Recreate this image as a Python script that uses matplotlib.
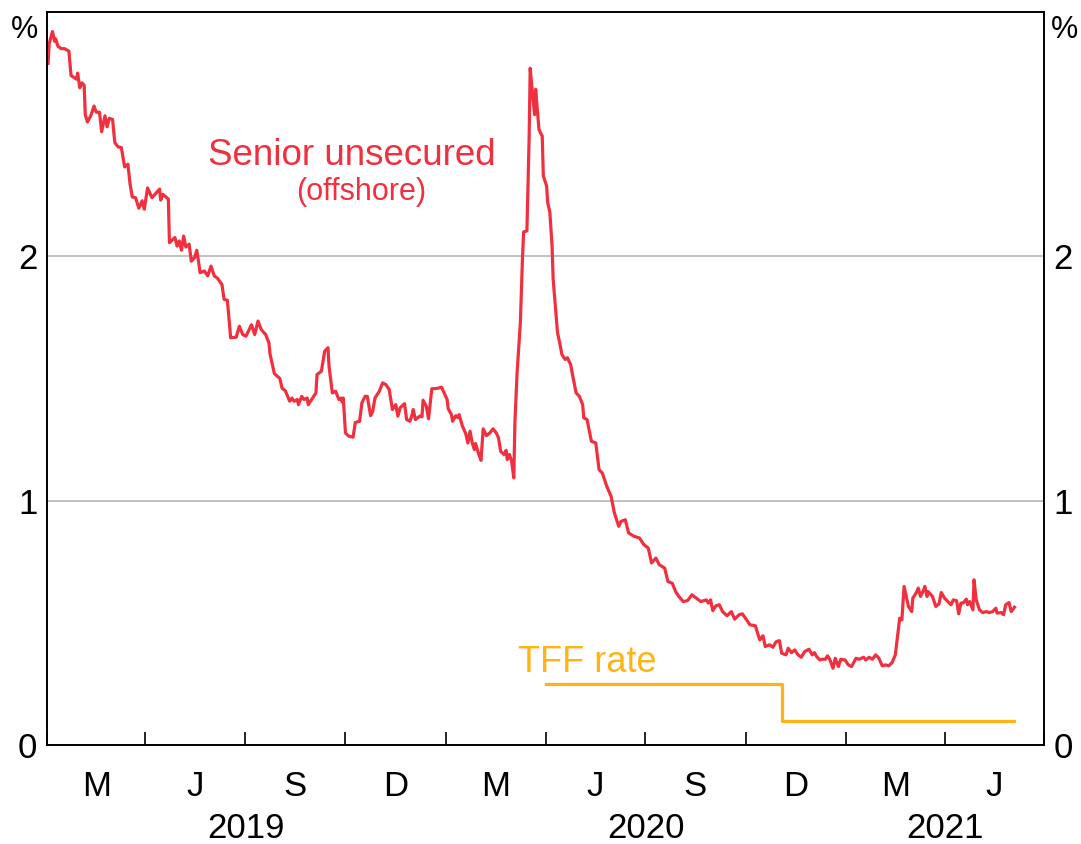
import matplotlib
matplotlib.use("Agg")
import matplotlib.pyplot as plt
import matplotlib.transforms as mtransforms
import pandas as pd

plt.rcParams["font.family"] = ["Liberation Sans", "DejaVu Sans"]

# senior unsecured spread (offshore), per cent
senior_dates = [
    "2019-01-02", "2019-01-03", "2019-01-06", "2019-01-08", "2019-01-09", "2019-01-11",
    "2019-01-14", "2019-01-17", "2019-01-21", "2019-01-23", "2019-01-28", "2019-01-29",
    "2019-01-31", "2019-02-02", "2019-02-04", "2019-02-05", "2019-02-07", "2019-02-10",
    "2019-02-13", "2019-02-15", "2019-02-18", "2019-02-20", "2019-02-23", "2019-02-25",
    "2019-02-27", "2019-03-02", "2019-03-04", "2019-03-07", "2019-03-10", "2019-03-13",
    "2019-03-16", "2019-03-18", "2019-03-20", "2019-03-23", "2019-03-26", "2019-03-29",
    "2019-03-31", "2019-04-03", "2019-04-07", "2019-04-11", "2019-04-14", "2019-04-15",
    "2019-04-17", "2019-04-22", "2019-04-23", "2019-04-28", "2019-04-30", "2019-05-02",
    "2019-05-04", "2019-05-06", "2019-05-08", "2019-05-11", "2019-05-13", "2019-05-16",
    "2019-05-18", "2019-05-20", "2019-05-21", "2019-05-25", "2019-05-28", "2019-05-31",
    "2019-06-03", "2019-06-06", "2019-06-10", "2019-06-12", "2019-06-15", "2019-06-18",
    "2019-06-23", "2019-06-26", "2019-06-29", "2019-07-02", "2019-07-07", "2019-07-10",
    "2019-07-13", "2019-07-16", "2019-07-20", "2019-07-23", "2019-07-24", "2019-07-28",
    "2019-08-02", "2019-08-04", "2019-08-07", "2019-08-11", "2019-08-13", "2019-08-15",
    "2019-08-18", "2019-08-19", "2019-08-22", "2019-08-24", "2019-08-27", "2019-08-28",
    "2019-09-01", "2019-09-04", "2019-09-05", "2019-09-09", "2019-09-12", "2019-09-15",
    "2019-09-16", "2019-09-19", "2019-09-22", "2019-09-25", "2019-09-27", "2019-09-28",
    "2019-09-29", "2019-10-01", "2019-10-04", "2019-10-08", "2019-10-10", "2019-10-14",
    "2019-10-16", "2019-10-19", "2019-10-21", "2019-10-24", "2019-10-26", "2019-10-28",
    "2019-10-31", "2019-11-01", "2019-11-04", "2019-11-07", "2019-11-10", "2019-11-13",
    "2019-11-16", "2019-11-18", "2019-11-20", "2019-11-24", "2019-11-26", "2019-11-29",
    "2019-12-01", "2019-12-02", "2019-12-04", "2019-12-08", "2019-12-10", "2019-12-11",
    "2019-12-14", "2019-12-16", "2019-12-19", "2019-12-23", "2019-12-28", "2020-01-02",
    "2020-01-03", "2020-01-06", "2020-01-07", "2020-01-10", "2020-01-12", "2020-01-13",
    "2020-01-16", "2020-01-19", "2020-01-21", "2020-01-23", "2020-01-25", "2020-01-27",
    "2020-01-28", "2020-01-31", "2020-02-02", "2020-02-04", "2020-02-07", "2020-02-10",
    "2020-02-13", "2020-02-16", "2020-02-18", "2020-02-20", "2020-02-23", "2020-02-25",
    "2020-02-26", "2020-02-28", "2020-03-01", "2020-03-03", "2020-03-04", "2020-03-06",
    "2020-03-09", "2020-03-11", "2020-03-12", "2020-03-15", "2020-03-17", "2020-03-18",
    "2020-03-20", "2020-03-22", "2020-03-23", "2020-03-25", "2020-03-26", "2020-03-28",
    "2020-03-29", "2020-03-30", "2020-04-02", "2020-04-03", "2020-04-05", "2020-04-07",
    "2020-04-08", "2020-04-10", "2020-04-12", "2020-04-14", "2020-04-16", "2020-04-19",
    "2020-04-21", "2020-04-24", "2020-04-26", "2020-04-29", "2020-05-02", "2020-05-05",
    "2020-05-06", "2020-05-09", "2020-05-13", "2020-05-17", "2020-05-20", "2020-05-23",
    "2020-05-27", "2020-05-31", "2020-06-03", "2020-06-07", "2020-06-09", "2020-06-13",
    "2020-06-16", "2020-06-21", "2020-06-26", "2020-06-30", "2020-07-04", "2020-07-07",
    "2020-07-11", "2020-07-14", "2020-07-19", "2020-07-22", "2020-07-26", "2020-07-29",
    "2020-08-01", "2020-08-05", "2020-08-09", "2020-08-13", "2020-08-17", "2020-08-21",
    "2020-08-26", "2020-08-28", "2020-08-30", "2020-09-01", "2020-09-04", "2020-09-07",
    "2020-09-10", "2020-09-14", "2020-09-18", "2020-09-21", "2020-09-25", "2020-09-28",
    "2020-10-02", "2020-10-05", "2020-10-10", "2020-10-12", "2020-10-14", "2020-10-17",
    "2020-10-19", "2020-10-23", "2020-10-26", "2020-10-29", "2020-11-01", "2020-11-03",
    "2020-11-07", "2020-11-09", "2020-11-12", "2020-11-15", "2020-11-18", "2020-11-21",
    "2020-11-24", "2020-11-28", "2020-12-01", "2020-12-03", "2020-12-05", "2020-12-08",
    "2020-12-10", "2020-12-13", "2020-12-15", "2020-12-17", "2020-12-20", "2020-12-22",
    "2020-12-25", "2020-12-27", "2020-12-31", "2021-01-03", "2021-01-06", "2021-01-10",
    "2021-01-13", "2021-01-17", "2021-01-19", "2021-01-22", "2021-01-25", "2021-01-28",
    "2021-01-31", "2021-02-03", "2021-02-06", "2021-02-09", "2021-02-12", "2021-02-15",
    "2021-02-17", "2021-02-19", "2021-02-21", "2021-02-23", "2021-02-25", "2021-02-27",
    "2021-03-02", "2021-03-03", "2021-03-06", "2021-03-08", "2021-03-10", "2021-03-13",
    "2021-03-14", "2021-03-16", "2021-03-17", "2021-03-21", "2021-03-24", "2021-03-27",
    "2021-03-29", "2021-04-01", "2021-04-04", "2021-04-07", "2021-04-09", "2021-04-12",
    "2021-04-14", "2021-04-16", "2021-04-18", "2021-04-21", "2021-04-22", "2021-04-24",
    "2021-04-27", "2021-04-28", "2021-04-30", "2021-05-03", "2021-05-06", "2021-05-09",
    "2021-05-12", "2021-05-15", "2021-05-18", "2021-05-19", "2021-05-23", "2021-05-25",
    "2021-05-27", "2021-05-30", "2021-06-01", "2021-06-04",
]
senior_unsecured = [
    2.79, 2.87, 2.92, 2.88, 2.89, 2.86,
    2.85, 2.85, 2.84, 2.74, 2.725, 2.75,
    2.69, 2.71, 2.70, 2.58, 2.55, 2.575,
    2.615, 2.59, 2.59, 2.51, 2.575, 2.53,
    2.565, 2.56, 2.466, 2.448, 2.445, 2.366,
    2.377, 2.295, 2.243, 2.24, 2.197, 2.227,
    2.193, 2.28, 2.24, 2.26, 2.275, 2.23,
    2.254, 2.234, 2.056, 2.077, 2.042, 2.063,
    2.025, 2.083, 2.038, 2.05, 1.98, 1.995,
    2.025, 1.967, 1.933, 1.94, 1.92, 1.96,
    1.92, 1.91, 1.885, 1.824, 1.82, 1.667,
    1.669, 1.714, 1.68, 1.673, 1.72, 1.68,
    1.735, 1.70, 1.68, 1.646, 1.60, 1.52,
    1.50, 1.46, 1.45, 1.407, 1.42, 1.407,
    1.414, 1.393, 1.427, 1.414, 1.42, 1.393,
    1.42, 1.441, 1.516, 1.53, 1.612, 1.626,
    1.55, 1.441, 1.448, 1.414, 1.42, 1.403,
    1.42, 1.277, 1.264, 1.26, 1.32, 1.325,
    1.40, 1.427, 1.427, 1.348, 1.366, 1.42,
    1.441, 1.448, 1.482, 1.475, 1.455, 1.373,
    1.393, 1.346, 1.38, 1.397, 1.332, 1.325,
    1.352, 1.373, 1.332, 1.346, 1.343, 1.411,
    1.386, 1.335, 1.458, 1.459, 1.464, 1.414,
    1.376, 1.352, 1.325, 1.348, 1.339, 1.352,
    1.305, 1.275, 1.236, 1.284, 1.236, 1.209,
    1.234, 1.189, 1.165, 1.294, 1.266, 1.277,
    1.294, 1.277, 1.257, 1.202, 1.189, 1.206,
    1.168, 1.189, 1.161, 1.093, 1.318, 1.523,
    1.728, 2.00, 2.10, 2.104, 2.48, 2.77,
    2.67, 2.58, 2.684, 2.575, 2.52, 2.50,
    2.493, 2.33, 2.288, 2.22, 2.18, 2.042,
    1.906, 1.796, 1.687, 1.646, 1.598, 1.578,
    1.585, 1.557, 1.509, 1.441, 1.427, 1.393,
    1.339, 1.332, 1.243, 1.236, 1.127, 1.113,
    1.059, 1.018, 0.95, 0.895, 0.915, 0.922,
    0.868, 0.854, 0.847, 0.82, 0.806, 0.745,
    0.765, 0.738, 0.724, 0.669, 0.662, 0.628,
    0.608, 0.587, 0.591, 0.615, 0.601, 0.587,
    0.594, 0.581, 0.594, 0.55, 0.57, 0.574,
    0.546, 0.529, 0.546, 0.515, 0.533, 0.537,
    0.512, 0.492, 0.488, 0.458, 0.43, 0.447,
    0.403, 0.41, 0.40, 0.423, 0.427, 0.376,
    0.369, 0.396, 0.378, 0.389, 0.369, 0.359,
    0.382, 0.392, 0.369, 0.378, 0.362, 0.348,
    0.351, 0.351, 0.365, 0.351, 0.314, 0.355,
    0.321, 0.351, 0.348, 0.328, 0.321, 0.355,
    0.351, 0.359, 0.348, 0.359, 0.351, 0.369,
    0.355, 0.324, 0.328, 0.324, 0.337, 0.369,
    0.444, 0.519, 0.512, 0.649, 0.608, 0.567,
    0.546, 0.601, 0.622, 0.642, 0.608, 0.635,
    0.649, 0.608, 0.628, 0.608, 0.567, 0.578,
    0.624, 0.601, 0.587, 0.574, 0.594, 0.591,
    0.537, 0.581, 0.581, 0.597, 0.574, 0.587,
    0.553, 0.676, 0.594, 0.553, 0.542, 0.546,
    0.542, 0.546, 0.56, 0.54, 0.542, 0.533,
    0.574, 0.583, 0.546, 0.564,
]

# term funding facility rate, per cent
tff_dates = ["2020-04-01", "2020-11-03", "2021-06-04"]
tff_rate = [0.25, 0.10, 0.10]

quarter_labels = ["M", "J", "S", "D", "M", "J", "S", "D", "M", "J"]
year_labels = ["2019", "2020", "2021"]
year_centres = ["2019-07-02", "2020-07-02", "2021-04-01"]

RED = "#F0303E"
GOLD = "#FDB515"
FS = 25

senior = pd.Series(senior_unsecured, index=pd.to_datetime(senior_dates))
tff = pd.Series(tff_rate, index=pd.to_datetime(tff_dates))

fig = plt.figure(figsize=(10.81, 8.44), dpi=100)
ax = fig.add_axes([47 / 1081, 99 / 844, 997 / 1081, 733 / 844])

ax.plot(senior.index, senior.values, color=RED, lw=2.3)
ax.plot(tff.index, tff.values, color=GOLD, lw=2.3, drawstyle="steps-post")

ax.set_xlim(pd.Timestamp("2019-01-01"), pd.Timestamp("2021-07-01"))
ax.set_ylim(0, 3)

# quarter ticks point inwards, labels sit mid-quarter
q_starts = pd.date_range("2019-01-01", "2021-07-01", freq="QS")
ax.set_xticks(q_starts)
ax.set_xticklabels([""] * len(q_starts))
mids = [a + (b - a) / 2 for a, b in zip(q_starts[:-1], q_starts[1:])]
ax.set_xticks(mids, minor=True)
ax.set_xticklabels(quarter_labels, minor=True)
ax.tick_params(axis="x", which="major", direction="in", length=9.5, width=1.2, colors="black")
ax.tick_params(axis="x", which="minor", length=0, pad=18, labelsize=FS)

trans = mtransforms.blended_transform_factory(ax.transData, ax.transAxes)
for d, lab in zip(year_centres, year_labels):
    ax.text(pd.Timestamp(d), -0.114, lab, transform=trans, ha="center", va="center", fontsize=FS)

ax.set_yticks([0, 1, 2])
ax.set_yticklabels(["0", "1", "2"])
ax.tick_params(axis="y", which="both", length=0, pad=7, labelsize=FS,
               left=False, right=False, labelleft=True, labelright=True)
ax.grid(axis="y", color="#B0B0B0", lw=1.1)
ax.set_axisbelow(True)

ax.text(-0.009, 0.976, "%", transform=ax.transAxes, ha="right", va="center", fontsize=22)
ax.text(1.007, 0.976, "%", transform=ax.transAxes, ha="left", va="center", fontsize=22)

for s in ax.spines.values():
    s.set_linewidth(1.4)
    s.set_color("black")

ax.text(pd.Timestamp("2019-10-07"), 2.414, "Senior unsecured", color=RED,
        fontsize=26.5, ha="center", va="center")
ax.text(pd.Timestamp("2019-10-15"), 2.262, "(offshore)", color=RED,
        fontsize=22, ha="center", va="center")
ax.text(pd.Timestamp("2020-05-09"), 0.336, "TFF rate", color=GOLD,
        fontsize=26, ha="center", va="center")

fig.savefig("out.png", dpi=100)
